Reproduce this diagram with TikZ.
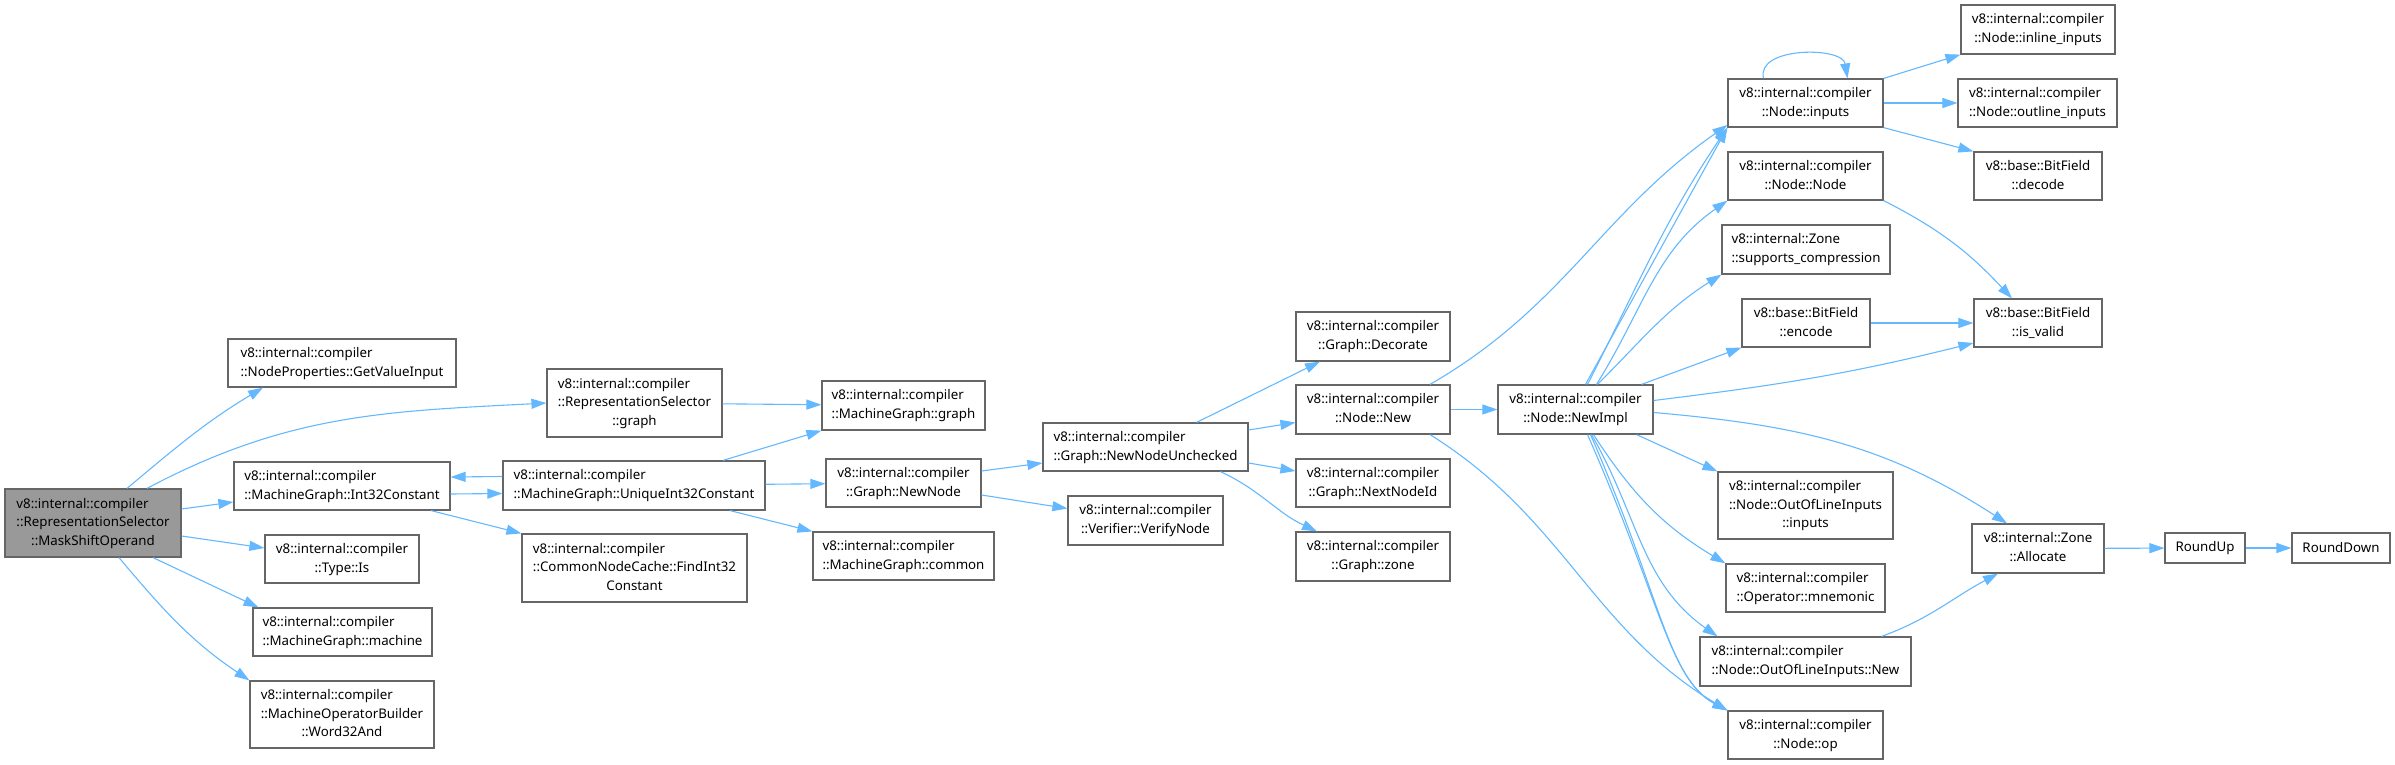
\documentclass[tikz,border=0pt]{standalone}
\usepackage{fontspec}
\setmainfont{Noto Sans}
\usetikzlibrary{arrows.meta}
\definecolor{edgeblue}{HTML}{63B8FF}
\definecolor{boxgray}{HTML}{666666}
\definecolor{rootgray}{HTML}{999999}
\newcommand{\twoln}[2]{\begin{tabular}{@{}l@{}}#1\\\multicolumn{1}{@{}c@{}}{#2}\end{tabular}}
\newcommand{\threeln}[3]{\begin{tabular}{@{}l@{}}#1\\#2\\\multicolumn{1}{@{}c@{}}{#3}\end{tabular}}

\begin{document}
\begin{tikzpicture}[x=1pt, y=1pt,
        fn/.style 2 args={rectangle, draw=boxgray, line width=1.2pt, fill=white, inner sep=0pt,
            minimum width=#1pt, minimum height=#2pt, font=\fontsize{13.3}{18.7}\selectfont},
        call/.style={draw=edgeblue, line width=1.1pt, -{Triangle[length=15pt, width=10pt]}}]
                \useasboundingbox (0,0) rectangle (2395,-765);
                \node[fn={176}{68}, fill=rootgray] (mso) at (93,-523) {\threeln{v8::internal::compiler}{::RepresentationSelector}{::MaskShiftOperand}};
                \node[fn={228}{48}] (gvi) at (342,-363) {\twoln{v8::internal::compiler}{::NodeProperties::GetValueInput}};
                \node[fn={216}{48}] (i32c) at (342,-486) {\twoln{v8::internal::compiler}{::MachineGraph::Int32Constant}};
                \node[fn={154}{48}] (tis) at (342,-559) {\twoln{v8::internal::compiler}{::Type::Is}};
                \node[fn={179}{48}] (mach) at (342.5,-632) {\twoln{v8::internal::compiler}{::MachineGraph::machine}};
                \node[fn={184}{67}] (w32) at (342,-714.5) {\threeln{v8::internal::compiler}{::MachineOperatorBuilder}{::Word32And}};
                \node[fn={175}{68}] (rsg) at (634.5,-403) {\threeln{v8::internal::compiler}{::RepresentationSelector}{::graph}};
                \node[fn={262}{49}] (ui32) at (634,-485.5) {\twoln{v8::internal::compiler}{::MachineGraph::UniqueInt32Constant}};
                \node[fn={225}{68}] (find) at (634.5,-568) {\threeln{v8::internal::compiler}{::CommonNodeCache::FindInt32}{Constant}};
                \node[fn={163}{49}] (mgg) at (903.5,-405.5) {\twoln{v8::internal::compiler}{::MachineGraph::graph}};
                \node[fn={155}{48}] (gnn) at (903.5,-483) {\twoln{v8::internal::compiler}{::Graph::NewNode}};
                \node[fn={181}{48}] (mgc) at (903.5,-556) {\twoln{v8::internal::compiler}{::MachineGraph::common}};
                \node[fn={205}{48}] (nnu) at (1145.5,-447) {\twoln{v8::internal::compiler}{::Graph::NewNodeUnchecked}};
                \node[fn={155}{49}] (vfy) at (1145.5,-520.5) {\twoln{v8::internal::compiler}{::Verifier::VerifyNode}};
                \node[fn={154}{49}] (deco) at (1373,-336.5) {\twoln{v8::internal::compiler}{::Graph::Decorate}};
                \node[fn={154}{49}] (nnew) at (1373,-409.5) {\twoln{v8::internal::compiler}{::Node::New}};
                \node[fn={154}{48}] (nid) at (1373,-483) {\twoln{v8::internal::compiler}{::Graph::NextNodeId}};
                \node[fn={154}{49}] (gzone) at (1373,-556.5) {\twoln{v8::internal::compiler}{::Graph::zone}};
                \node[fn={155}{49}] (nimpl) at (1575.5,-409.5) {\twoln{v8::internal::compiler}{::Node::NewImpl}};
                \node[fn={155}{48}] (ninp) at (1805.5,-103) {\twoln{v8::internal::compiler}{::Node::inputs}};
                \node[fn={155}{48}] (nnode) at (1805.5,-176) {\twoln{v8::internal::compiler}{::Node::Node}};
                \node[fn={168}{49}] (supc) at (1806,-249.5) {\twoln{v8::internal::Zone}{::supports\_compression}};
                \node[fn={128}{48}] (enc) at (1806,-323) {\twoln{v8::base::BitField}{::encode}};
                \node[fn={175}{67}] (oolin) at (1805.5,-505.5) {\threeln{v8::internal::compiler}{::Node::OutOfLineInputs}{::inputs}};
                \node[fn={159}{48}] (mnem) at (1805.5,-588) {\twoln{v8::internal::compiler}{::Operator::mnemonic}};
                \node[fn={211}{49}] (oolnew) at (1805.5,-661.5) {\twoln{v8::internal::compiler}{::Node::OutOfLineInputs::New}};
                \node[fn={155}{48}] (nop) at (1805.5,-735) {\twoln{v8::internal::compiler}{::Node::op}};
                \node[fn={154}{49}] (inl) at (2038,-29.5) {\twoln{v8::internal::compiler}{::Node::inline\_inputs}};
                \node[fn={159}{48}] (outl) at (2037.5,-103) {\twoln{v8::internal::compiler}{::Node::outline\_inputs}};
                \node[fn={128}{48}] (dec) at (2038,-176) {\twoln{v8::base::BitField}{::decode}};
                \node[fn={128}{48}] (isv) at (2038,-323) {\twoln{v8::base::BitField}{::is\_valid}};
                \node[fn={132}{49}] (alloc) at (2038,-548.5) {\twoln{v8::internal::Zone}{::Allocate}};
                \node[fn={80}{30}] (rup) at (2205,-548) {RoundUp};
                \node[fn={98}{30}] (rdn) at (2341,-548) {RoundDown};
                \draw[call] ([xshift=34pt]mso.north) to[out=40,in=211] ([xshift=-79pt]gvi.south);
                \draw[call] ([xshift=54pt]mso.north) to[out=28,in=183] (rsg.west);
                \draw[call] ([yshift=14pt]mso.east) -- ([yshift=-16pt]i32c.west);
                \draw[call] ([yshift=-13pt]mso.east) -- ([yshift=11pt]tis.west);
                \draw[call] ([xshift=60pt]mso.south) -- ([xshift=-84pt]mach.north);
                \draw[call] ([xshift=26pt]mso.south) to[out=-50,in=146] (w32.north west);
                \draw[call] ([yshift=9pt]ui32.west) -- ([yshift=9pt]i32c.east);
                \draw[call] ([yshift=-8pt]i32c.east) -- ([yshift=-8pt]ui32.west);
                \draw[call] ([xshift=89pt]i32c.south) -- (find.north west);
                \draw[call] (rsg) -- (mgg);
                \draw[call] ([xshift=89pt]ui32.north) -- (mgg.south west);
                \draw[call] (ui32) -- (gnn);
                \draw[call] ([xshift=96pt]ui32.south) -- (mgc.north west);
                \draw[call] ([yshift=12pt]gnn.east) -- ([yshift=-16pt]nnu.west);
                \draw[call] ([yshift=-12pt]gnn.east) -- ([yshift=12pt]vfy.west);
                \draw[call] ([xshift=51pt]nnu.north) -- ([xshift=-53pt]deco.south);
                \draw[call] ([yshift=17pt]nnu.east) -- ([yshift=-13pt]nnew.west);
                \draw[call] ([yshift=-16pt]nnu.east) -- ([yshift=12pt]nid.west);
                \draw[call] ([xshift=75pt]nnu.south) to[out=-25,in=155] ([xshift=-56pt]gzone.north);
                \draw[call] (nnew) -- (nimpl);
                \draw[call] ([xshift=57pt]nnew.north) to[out=30,in=215] ([yshift=-22pt]ninp.west);
                \draw[call] ([xshift=57pt]nnew.south) to[out=-32,in=149] (nop.north west);
                \draw[call] ([xshift=10pt]nimpl.north) -- (ninp.south west);
                \draw[call] ([xshift=12pt]nimpl.north) to[out=63,in=236] (ninp.south west);
                \draw[call] ([xshift=21pt]nimpl.north) to[out=58,in=215] (nnode.south west);
                \draw[call] ([xshift=22pt]nimpl.north) to[out=45,in=212] (supc.south west);
                \draw[call] ([xshift=66pt]nimpl.north) -- (enc.south west);
                \draw[call] ([yshift=9pt]nimpl.east) to[out=7,in=194] ([yshift=-20pt]isv.west);
                \draw[call] ([yshift=-3pt]nimpl.east) to[out=-5,in=147] ([xshift=-31pt]alloc.north);
                \draw[call] ([xshift=61pt]nimpl.south) -- (oolin.north west);
                \draw[call] ([xshift=18pt]nimpl.south) to[out=-57,in=149] (mnem.north west);
                \draw[call] ([xshift=16pt]nimpl.south) to[out=-60,in=145] ([xshift=-88pt]oolnew.north);
                \draw[call] ([xshift=12pt]nimpl.south) .. controls +(73,-166) and +(-58,31) .. (nop.north west);
                \draw[call] ([xshift=15pt]nimpl.south) .. controls +(70,-160) and +(-60,32) .. (nop.north west);
                \draw[call] ([xshift=-42pt]ninp.north) .. controls +(-8,32) and +(-5,32) .. ([xshift=42pt]ninp.north);
                \draw[call] (ninp.north east) -- (inl.south west);
                \draw[call] (ninp) -- (outl);
                \draw[call] (ninp.south east) -- (dec.north west);
                \draw[call] (nnode.south east) to[out=-27,in=133] ([xshift=-26pt]isv.north);
                \draw[call] (enc) -- (isv);
                \draw[call] ([xshift=76pt]oolnew.north) to[out=20,in=208] ([xshift=-40pt]alloc.south);
                \draw[call] (alloc) -- (rup);
                \draw[call] (rup) -- (rdn);
            \end{tikzpicture}
\end{document}
